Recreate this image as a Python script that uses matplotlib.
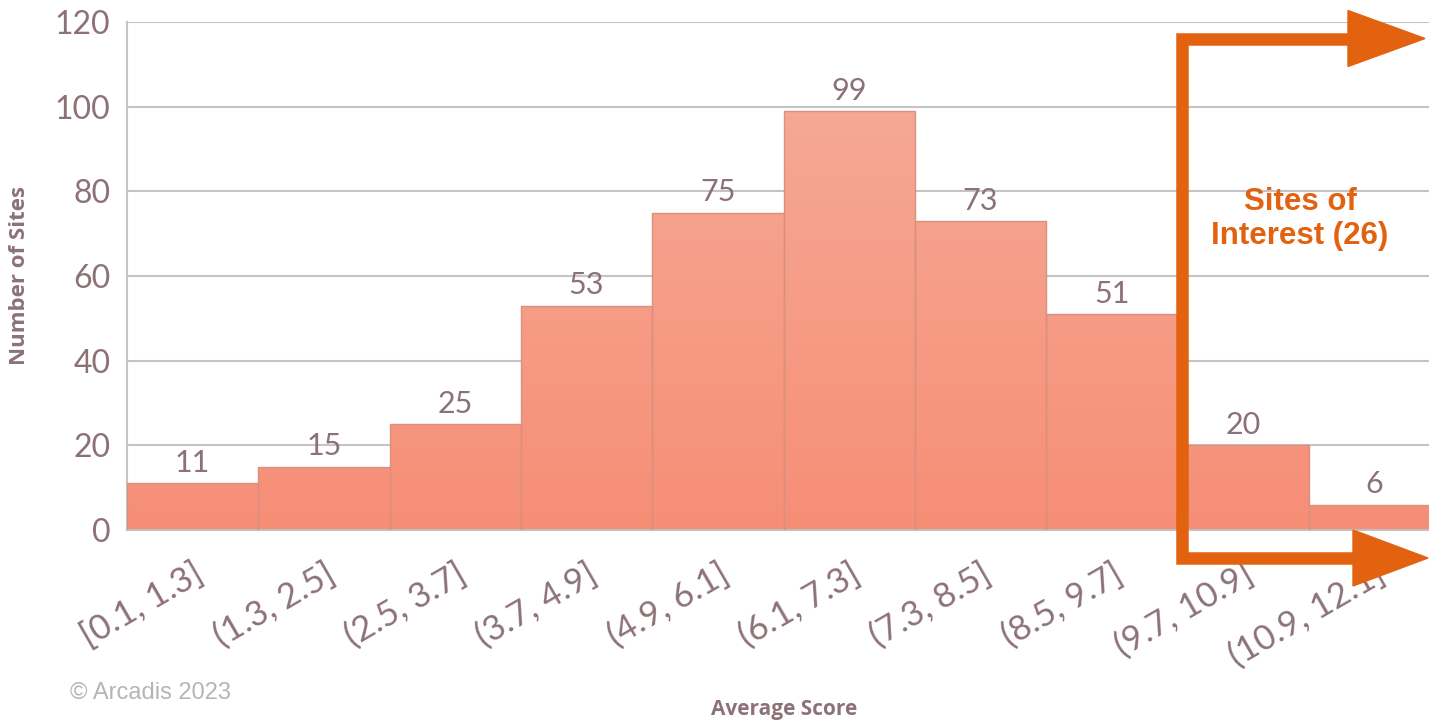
import numpy as np
import matplotlib.pyplot as plt
from matplotlib.colors import LinearSegmentedColormap

bins = ["[0.1, 1.3]", "(1.3, 2.5]", "(2.5, 3.7]", "(3.7, 4.9]", "(4.9, 6.1]",
        "(6.1, 7.3]", "(7.3, 8.5]", "(8.5, 9.7]", "(9.7, 10.9]", "(10.9, 12.1]"]
counts = [11, 15, 25, 53, 75, 99, 73, 51, 20, 6]
yticks = [0, 20, 40, 60, 80, 100, 120]

txt = "#8C7276"
orange = "#E26210"
plt.rcParams['font.family'] = ['Lato', 'DejaVu Sans']

fig = plt.figure(figsize=(14.29, 7.21), dpi=100)
# right edge goes past the figure, the reference is cropped there
ax = fig.add_axes([127 / 1429, 191 / 721, 1313 / 1429, 508 / 721])

x = np.arange(len(counts))
bars = ax.bar(x, counts, width=1.0, color="none", edgecolor="#D9907E", linewidth=1.0, zorder=3)

# vertical gradient inside the bars, lighter at the top
cmap = LinearSegmentedColormap.from_list("g", ["#F78E76", "#F5AE9B"])
grad = np.linspace(0, 1, 256).reshape(-1, 1)
for b in bars:
    im = ax.imshow(grad, cmap=cmap, origin="lower", aspect="auto",
                   extent=[-0.5, 9.5, 0, 120], zorder=2, vmin=0, vmax=1)
    im.set_clip_path(b)

for xi, c in zip(x, counts):
    ax.text(xi, c + 1.5, str(c), ha="center", va="bottom", fontsize=22, color=txt, zorder=4)

ax.set_xlim(-0.5, 9.5)
ax.set_ylim(0, 120)
ax.set_yticks(yticks)
ax.set_yticklabels([str(v) for v in yticks], fontsize=23, color=txt)
ax.set_xticks(x)
ax.set_xticklabels(bins, rotation=30, ha="right", rotation_mode="anchor", fontsize=25, color=txt)
ax.tick_params(axis="both", length=0)
ax.tick_params(axis="y", pad=12)
ax.tick_params(axis="x", pad=20)
ax.grid(axis="y", color="#C4C4C4", linewidth=1.5, zorder=0)
ax.set_axisbelow(True)
for s in ["top", "right"]:
    ax.spines[s].set_visible(False)
ax.spines["left"].set_color("#C4C4C4")
ax.spines["left"].set_linewidth(1.5)
ax.spines["bottom"].set_color("#C4C4C4")
ax.spines["bottom"].set_linewidth(1.5)

fig.text(20 / 1429, 1 - 275 / 721, "Number of Sites", rotation=90, ha="center", va="center",
         fontsize=16, color=txt, fontweight="bold", family=["Open Sans", "DejaVu Sans"])
fig.text(784 / 1429, 1 - 709 / 721, "Average Score", ha="center", va="center",
         fontsize=15, color=txt, fontweight="bold", family=["Open Sans", "DejaVu Sans"])
fig.text(70 / 1429, 1 - 693 / 721, "\u00a9 Arcadis 2023", ha="left", va="center",
         fontsize=17, color="#B5B5B5", family=["Liberation Sans", "DejaVu Sans"])

# sites of interest bracket, in pixel coords of the figure
def px(xp, yp):
    return (xp / 1429, 1 - yp / 721)

lw = 9
xs, ys = zip(px(1348, 38.5), px(1182, 38.5), px(1182, 558), px(1353, 558))
fig.add_artist(plt.Line2D(xs, ys, color=orange, linewidth=lw, solid_joinstyle="miter",
                          solid_capstyle="butt", transform=fig.transFigure))
for (x0, x1, yc) in [(1348, 1425, 38.5), (1353, 1428, 558)]:
    tri = plt.Polygon([px(x0, yc - 28), px(x1, yc), px(x0, yc + 28)], closed=True,
                      color=orange, transform=fig.transFigure)
    fig.add_artist(tri)

fig.text(1300 / 1429, 1 - 219 / 721, "Sites of\nInterest (26)", ha="center", va="center",
         fontsize=22.5, fontweight="bold", color=orange, linespacing=1.2,
         family=["Liberation Sans", "DejaVu Sans"])

fig.savefig("out.png", dpi=100)
